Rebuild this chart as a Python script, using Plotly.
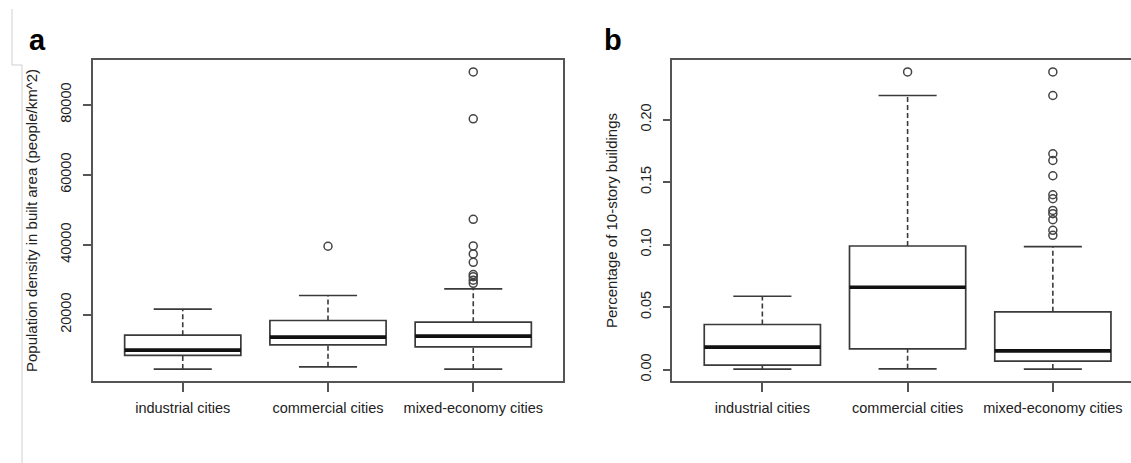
import plotly.graph_objects as go

# ---- data -------------------------------------------------------------
categories = ["industrial cities", "commercial cities", "mixed-economy cities"]

# Panel a: population density in built area (people/km^2)
density_lower = [4510, 5160, 4510]
density_q1 = [8420, 11440, 10870]
density_median = [9930, 13640, 13920]
density_q3 = [14210, 18400, 17920]
density_upper = [21630, 25540, 27420]
density_outliers = [
    [],
    [39600],
    [89400, 76000, 47300, 39700, 37400, 35000, 31500, 30900, 29900, 29000],
]

# Panel b: share of buildings with 10+ stories
tall_lower = [0.0004, 0.0006, 0.0004]
tall_q1 = [0.0036, 0.0166, 0.0068]
tall_median = [0.0180, 0.0659, 0.0150]
tall_q3 = [0.0361, 0.0989, 0.0462]
tall_upper = [0.0587, 0.2193, 0.0984]
tall_outliers = [
    [],
    [0.2382],
    [0.2382, 0.2193, 0.1727, 0.1673, 0.1551, 0.1399, 0.1367,
     0.1274, 0.1248, 0.1200, 0.1114, 0.1074],
]

density_ticks = [20000, 40000, 60000, 80000]
tall_ticks = [0.00, 0.05, 0.10, 0.15, 0.20]

# ---- styling ----------------------------------------------------------
W, H = 1131, 463
FONT = "Liberation Sans, Arial, Helvetica, sans-serif"
INK = "#222222"
LINE = "#3a3a3a"
FRAME = "#555555"
BOX_W = 0.8          # box width in category units
CAP_W = BOX_W / 2    # whisker staple width

fig = go.Figure()


def add_panel(xa, ya, lower, q1, med, q3, upper, outliers):
    for i in range(len(categories)):
        # box body (whiskers are drawn separately, dashed)
        fig.add_trace(go.Box(
            x=[i], q1=[q1[i]], median=[med[i]], q3=[q3[i]],
            lowerfence=[q1[i]], upperfence=[q3[i]],
            width=BOX_W, fillcolor="white",
            line=dict(color=LINE, width=1.7),
            boxpoints=False, showlegend=False, hoverinfo="skip",
            xaxis=xa, yaxis=ya,
        ))
        # dashed whiskers
        for a, b in ((lower[i], q1[i]), (q3[i], upper[i])):
            fig.add_trace(go.Scatter(
                x=[i, i], y=[a, b], mode="lines",
                line=dict(color=LINE, width=1.6, dash="5px,3px"),
                showlegend=False, hoverinfo="skip", xaxis=xa, yaxis=ya,
            ))
        # whisker staples
        for v in (lower[i], upper[i]):
            fig.add_trace(go.Scatter(
                x=[i - CAP_W / 2, i + CAP_W / 2], y=[v, v], mode="lines",
                line=dict(color=LINE, width=1.7),
                showlegend=False, hoverinfo="skip", xaxis=xa, yaxis=ya,
            ))
        # heavy median line
        fig.add_trace(go.Scatter(
            x=[i - BOX_W / 2, i + BOX_W / 2], y=[med[i], med[i]], mode="lines",
            line=dict(color="#111111", width=3.6),
            showlegend=False, hoverinfo="skip", xaxis=xa, yaxis=ya,
        ))
        # outliers
        if outliers[i]:
            fig.add_trace(go.Scatter(
                x=[i] * len(outliers[i]), y=outliers[i], mode="markers",
                marker=dict(symbol="circle-open", size=8,
                            line=dict(color="#444444", width=1.5),
                            color="#444444"),
                showlegend=False, hoverinfo="skip", xaxis=xa, yaxis=ya,
            ))


add_panel("x", "y", density_lower, density_q1, density_median, density_q3,
          density_upper, density_outliers)
add_panel("x2", "y2", tall_lower, tall_q1, tall_median, tall_q3,
          tall_upper, tall_outliers)


def padded(lo_vals, hi_vals, outs):
    lo = min(lo_vals + [v for o in outs for v in o])
    hi = max(hi_vals + [v for o in outs for v in o])
    pad = 0.04 * (hi - lo)
    return [lo - pad, hi + pad]


# plot regions in pixels
left_px = (92.7, 563.3)
right_px_left = 672.3
top_px, bottom_px = 60.0, 381.0
unit_px = (left_px[1] - left_px[0]) / 3.24

ydom = [1 - bottom_px / H, 1 - top_px / H]

common_x = dict(
    tickmode="array", tickvals=[0, 1, 2], ticktext=categories,
    ticks="outside", ticklen=9, tickwidth=1.5, tickcolor=FRAME,
    showline=True, linecolor=FRAME, linewidth=1.5, mirror=True,
    showgrid=False, zeroline=False, automargin=False,
    tickfont=dict(family=FONT, size=14.5, color=INK),
    ticklabelstandoff=4,
)
common_y = dict(
    ticks="outside", ticklen=8, tickwidth=1.5, tickcolor=FRAME,
    showline=True, linecolor=FRAME, linewidth=1.5,
    showgrid=False, zeroline=False, automargin=False,
    tickangle=-90, tickfont=dict(family=FONT, size=14.5, color=INK),
    ticklabelstandoff=6,
)

fig.update_layout(
    width=W, height=H,
    margin=dict(l=0, r=0, t=0, b=0),
    paper_bgcolor="white", plot_bgcolor="white",
    showlegend=False,
    xaxis=dict(domain=[left_px[0] / W, left_px[1] / W],
               range=[-0.62, 2.62], anchor="y", **common_x),
    yaxis=dict(domain=ydom, anchor="x", mirror=True,
               range=padded(density_lower, density_upper, density_outliers),
               tickmode="array", tickvals=density_ticks,
               ticktext=[str(t) for t in density_ticks],
               title=dict(text="Population density in built area (people/km^2)",
                          font=dict(family=FONT, size=15, color=INK),
                          standoff=17),
               **common_y),
    xaxis2=dict(domain=[right_px_left / W, 1.0],
                range=[-0.62, -0.62 + (W - right_px_left) / unit_px],
                anchor="y2", **common_x),
    yaxis2=dict(domain=ydom, anchor="x2", mirror=False,
                range=padded(tall_lower, tall_upper, tall_outliers),
                tickmode="array", tickvals=tall_ticks,
                ticktext=[f"{t:.2f}" for t in tall_ticks],
                title=dict(text="Percentage of 10-story buildings",
                           font=dict(family=FONT, size=15, color=INK),
                           standoff=17),
                **common_y),
)

# panel letters
for txt, xp in (("a", 37), ("b", 613)):
    fig.add_annotation(
        text=f"<b>{txt}</b>", x=xp / W, y=1 - 40 / H, xref="paper", yref="paper",
        showarrow=False, xanchor="center", yanchor="middle",
        font=dict(family=FONT, size=29, color="#000000"),
    )

# faint page-edge rule on the far left
edge = dict(type="line", xref="paper", yref="paper",
            line=dict(color="#cfcfcf", width=1))
fig.add_shape(x0=12 / W, x1=12 / W, y0=1 - 9 / H, y1=1 - 65 / H, **edge)
fig.add_shape(x0=12 / W, x1=22 / W, y0=1 - 65 / H, y1=1 - 65 / H, **edge)
fig.add_shape(x0=22 / W, x1=22 / W, y0=1 - 65 / H, y1=0, **edge)

fig.write_html("out.html")
